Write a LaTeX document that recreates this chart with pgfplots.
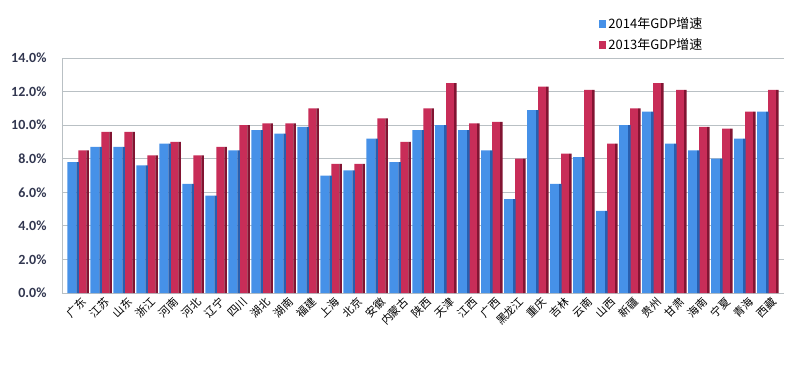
\documentclass[border=0pt]{standalone}
\usepackage{fontspec}
\setmainfont{Carlito}
\newfontfamily\cjk{Noto Sans CJK SC}
\usepackage{pgfplots}
\pgfplotsset{compat=1.18}
\definecolor{b14}{RGB}{70,145,232}
\definecolor{b14s}{RGB}{40,95,175}
\definecolor{r13}{RGB}{200,45,88}
\definecolor{r13s}{RGB}{130,20,50}
\definecolor{gridc}{RGB}{185,192,196}
\definecolor{tickc}{RGB}{50,55,80}
\pgfplotstableread{
x v14 v13
0 7.8 8.5
1 8.7 9.6
2 8.7 9.6
3 7.6 8.2
4 8.9 9.0
5 6.5 8.2
6 5.8 8.7
7 8.5 10.0
8 9.7 10.1
9 9.5 10.1
10 9.9 11.0
11 7.0 7.7
12 7.3 7.7
13 9.2 10.4
14 7.8 9.0
15 9.7 11.0
16 10.0 12.5
17 9.7 10.1
18 8.5 10.2
19 5.6 8.0
20 10.9 12.3
21 6.5 8.3
22 8.1 12.1
23 4.9 8.9
24 10.0 11.0
25 10.8 12.5
26 8.9 12.1
27 8.5 9.9
28 8.0 9.8
29 9.2 10.8
30 10.8 12.1
}\gdp
\begin{document}
\begin{tikzpicture}
\path[use as bounding box] (0,0) rectangle (800pt,381pt);
\begin{axis}[
  at={(62pt,88pt)}, anchor=south west,
  scale only axis, width=722pt, height=235pt,
  xmin=-0.7, xmax=30.7, ymin=0, ymax=14,
  ytick={0,2,...,14},
  yticklabels={0.0\%,2.0\%,4.0\%,6.0\%,8.0\%,10.0\%,12.0\%,14.0\%},
  xtick={0,...,30},
  xticklabels={广东,江苏,山东,浙江,河南,河北,辽宁,四川,湖北,湖南,福建,上海,北京,安徽,内蒙古,陕西,天津,江西,广西,黑龙江,重庆,吉林,云南,山西,新疆,贵州,甘肃,海南,宁夏,青海,西藏},
  axis x line*=bottom, axis y line*=left,
  axis line style={gridc, thick},
  ymajorgrids, major grid style={gridc, thick},
  major tick length=4pt,
  ytick style={draw=none},
  xtick style={gridc, thick},
  x tick label style={rotate=45, anchor=north east, font=\cjk\fontsize{11}{12}\selectfont, inner sep=0pt, yshift=-4pt},
  y tick label style={font=\bfseries\fontsize{14}{15}\selectfont, text=tickc, xshift=-12pt},
  legend style={at={(0.74,1.19)}, anchor=north west, draw=none, fill=none,
    font=\cjk\fontsize{13}{15}\selectfont, row sep=5pt},
  legend cell align=left,
  reverse legend,
  legend image code/.code={\fill[#1] (0pt,-4pt) rectangle (7pt,4pt);},
]
\addplot[ybar, bar width=8pt, bar shift=4.25pt, fill=r13, draw=none] table[x=x,y=v13]{\gdp};
\addlegendentry{2013年GDP增速}
\addplot[ybar, bar width=2.5pt, bar shift=9.5pt, fill=r13s, draw=none, forget plot] table[x=x,y=v13]{\gdp};
\addplot[ybar, bar width=9pt, bar shift=-6.25pt, fill=b14, draw=none] table[x=x,y=v14]{\gdp};
\addlegendentry{2014年GDP增速}
\addplot[ybar, bar width=2.5pt, bar shift=-0.5pt, fill=b14s, draw=none, forget plot] table[x=x,y=v14]{\gdp};
\end{axis}
\end{tikzpicture}
\end{document}
